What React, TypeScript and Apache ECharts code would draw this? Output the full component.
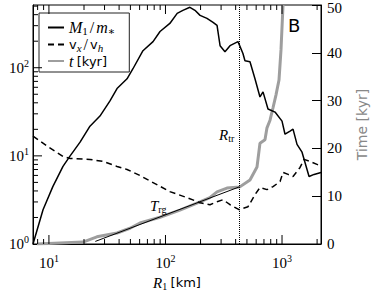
import React, { useEffect, useRef } from "react";
import * as echarts from "echarts";

// ---- data ----
const massR = [7.3, 8.9, 10.8, 13.2, 15.1, 18.5, 22.5, 27.4, 33.4, 38.4, 46.8, 52.6, 64.1, 78.2, 89.8, 109, 126, 141, 162, 179, 198, 227, 256, 277, 294, 324, 358, 419, 462, 481, 531, 586, 647, 687, 758, 871, 1000, 1061, 1172, 1243, 1345, 1485, 1706, 1884, 2160];
const massRatio = [1.0, 2.45, 4.48, 7.59, 9.87, 14.3, 21.7, 28.3, 42, 58, 74.9, 97.4, 156, 198, 258, 318, 414, 448, 485, 448, 393, 363, 327, 302, 178, 152, 178, 198, 145, 120, 117, 74.9, 46.6, 53.2, 34.0, 31.4, 24.8, 17.6, 19.1, 20.1, 13.5, 11.0, 5.83, 6.16, 6.48];

const velR = [7.3, 10, 13.2, 15.1, 22.5, 29.1, 38.4, 46.8, 60.4, 78.2, 109, 153, 198, 241, 277, 312, 358, 428, 511, 586, 647, 743, 837, 962, 1020, 1128, 1243, 1428, 1545, 1740, 1995, 2160];
const velRatio = [16.7, 12.5, 9.87, 9.36, 9.12, 8.65, 7.59, 7.01, 5.98, 4.98, 3.93, 3.36, 2.94, 2.79, 3.02, 3.18, 2.79, 2.45, 2.65, 3.63, 4.37, 4.14, 4.48, 5.11, 6.48, 6.16, 5.83, 7.39, 9.12, 8.65, 8.0, 7.6];

const timeR = [7.9, 19.6, 25.8, 38.4, 49.6, 60.4, 89.8, 133, 198, 240, 277, 337, 431, 531, 610, 647, 714, 743, 789, 837, 888, 924, 942, 980, 1020];
const timeKyr = [0, 0.4, 1.5, 2.3, 3.3, 4.4, 5.6, 7.1, 8.8, 9.7, 10.9, 11.7, 11.9, 13.4, 16.1, 21.1, 21.8, 24.3, 25.9, 28.5, 31.2, 33.3, 34.3, 40.6, 50];

const trgR = [25, 431];
const trgValue = [1.07, 4.45];

const rTransition = 431;

const xMin = 7.3;
const xMax = 2160;
const yMin = 1;
const yMax = 515;
const timeMin = 0;
const timeMax = 50;

const xMajorTicks = [10, 100, 1000];
const xMinorTicks = [8, 9, 20, 30, 40, 50, 60, 70, 80, 90, 200, 300, 400, 500, 600, 700, 800, 900, 2000];
const yMajorTicks = [10, 100];
const yMinorTicks = [2, 3, 4, 5, 6, 7, 8, 9, 20, 30, 40, 50, 60, 70, 80, 90, 200, 300, 400, 500];

const SERIF = "'Liberation Serif', 'DejaVu Serif', serif";
const SANS = "'DejaVu Sans', sans-serif";
const GRAY = "#9e9e9e";

const pairs = (xs: number[], ys: number[]) => xs.map((x, i) => [x, ys[i]]);

const powLabel = (v: number) => {
  const e = Math.log10(v);
  const r = Math.round(e);
  if (Math.abs(e - r) > 1e-6) return "";
  return `{b|10}{s|${r}}`;
};

const tickRich = {
  b: { fontFamily: SERIF, fontSize: 15, color: "#000" },
  s: { fontFamily: SERIF, fontSize: 10, color: "#000", padding: [0, 0, 9, 0] },
};

const mathRich = {
  i: { fontFamily: SERIF, fontStyle: "italic", fontSize: 15, color: "#000" },
  r: { fontFamily: SERIF, fontSize: 15, color: "#000" },
  n: { fontFamily: SANS, fontSize: 13, color: "#000" },
  sub: { fontFamily: SERIF, fontSize: 10, color: "#000", padding: [7, 0, 0, 0] },
  subi: { fontFamily: SERIF, fontStyle: "italic", fontSize: 10, color: "#000", padding: [7, 0, 0, 0] },
};

const legendRich = {
  i: { fontFamily: SERIF, fontStyle: "italic", fontSize: 16, lineHeight: 15, color: "#000" },
  r: { fontFamily: SERIF, fontSize: 16, lineHeight: 15, color: "#000", padding: [0, 2, 0, 2] },
  n: { fontFamily: SANS, fontSize: 13, lineHeight: 15, color: "#000" },
  sub: { fontFamily: SERIF, fontSize: 11, lineHeight: 10, color: "#000", padding: [6, 0, 0, 0] },
  subi: { fontFamily: SERIF, fontStyle: "italic", fontSize: 11, lineHeight: 10, color: "#000", padding: [6, 0, 0, 0] },
};

const legendText: Record<string, string> = {
  "M1/m*": "{i|M}{sub|1}{r|/}{i|m}{sub|∗}",
  "vx/vh": "{n|v}{subi|x}{r|/}{n|v}{subi|h}",
  "t [kyr]": "{i|t} {n|[kyr]}",
};

const timeLabel = (v: number) => (v === timeMax ? `{top|${v}}` : `${v}`);

export default function App() {
  const ref = useRef<HTMLDivElement>(null);

  useEffect(() => {
    if (!ref.current) return;
    const chart = echarts.init(ref.current, undefined, { renderer: "svg" });

    const xTickData = [
      ...xMajorTicks.map((v) => [v, yMin, 9]),
      ...xMinorTicks.map((v) => [v, yMin, 5]),
    ];
    const yTickData = [
      ...yMajorTicks.map((v) => [xMin, v, 9]),
      ...yMinorTicks.map((v) => [xMin, v, 5]),
    ];

    chart.setOption({
      animation: false,
      grid: {
        left: 33,
        right: 53,
        top: 5,
        bottom: 47,
        containLabel: false,
        outerBoundsMode: "none",
        show: true,
        borderColor: "#000",
        borderWidth: 1,
        backgroundColor: "transparent",
      },
      legend: {
        data: ["M1/m*", "vx/vh", "t [kyr]"],
        orient: "vertical",
        left: 39,
        top: 13,
        padding: [6, 14, 3, 8],
        itemGap: 0,
        itemWidth: 16,
        itemHeight: 12,
        borderColor: "#222",
        borderWidth: 1,
        borderRadius: 0,
        backgroundColor: "#fff",
        itemStyle: { opacity: 0 },
        formatter: (name: string) => legendText[name] || name,
        textStyle: { rich: legendRich },
      },
      xAxis: {
        type: "log",
        logBase: 10,
        min: xMin,
        max: xMax,
        axisLine: { show: true, lineStyle: { color: "#000", width: 1 } },
        axisTick: { show: false },
        splitLine: { show: false },
        axisLabel: {
          formatter: powLabel,
          rich: tickRich,
          margin: 9,
          showMinLabel: false,
          showMaxLabel: false,
        },
        name: "{i|R}{sub|1} {n|[km]}",
        nameLocation: "middle",
        nameGap: 30,
        nameTextStyle: { rich: mathRich },
      },
      yAxis: [
        {
          type: "log",
          logBase: 10,
          min: yMin,
          max: yMax,
          position: "left",
          axisLine: { show: true, lineStyle: { color: "#000", width: 1 } },
          axisTick: { show: false },
          splitLine: { show: false },
          axisLabel: {
            formatter: powLabel,
            rich: tickRich,
            margin: 4,
            showMaxLabel: false,
          },
        },
        {
          type: "value",
          min: timeMin,
          max: timeMax,
          interval: 10,
          position: "right",
          axisLine: { show: true, lineStyle: { color: "#000", width: 1 } },
          axisTick: { show: true, inside: true, length: 9, lineStyle: { color: "#000" } },
          splitLine: { show: false },
          axisLabel: {
            fontFamily: SERIF,
            fontSize: 15,
            color: "#000",
            margin: 6,
            formatter: timeLabel,
            rich: { top: { fontFamily: SERIF, fontSize: 15, color: "#000", padding: [5, 0, 0, 0] } },
          },
          name: "Time [kyr]",
          nameLocation: "middle",
          nameGap: 34,
          nameRotate: 90,
          nameTextStyle: { fontFamily: SANS, fontSize: 14, color: "#888" },
        },
      ],
      series: [
        {
          name: "t [kyr]",
          type: "line",
          yAxisIndex: 1,
          data: pairs(timeR, timeKyr),
          symbol: "none",
          lineStyle: { color: GRAY, width: 3 },
          itemStyle: { color: GRAY, opacity: 0 },
          z: 2,
        },
        {
          name: "T_rg",
          type: "line",
          yAxisIndex: 0,
          data: pairs(trgR, trgValue),
          symbol: "none",
          lineStyle: { color: "#000", width: 1 },
          z: 3,
        },
        {
          name: "M1/m*",
          type: "line",
          yAxisIndex: 0,
          data: pairs(massR, massRatio),
          symbol: "none",
          lineStyle: { color: "#000", width: 1.5 },
          itemStyle: { color: "#000", opacity: 0 },
          z: 3,
          markLine: {
            silent: true,
            symbol: "none",
            label: { show: false },
            lineStyle: { color: "#000", type: "dotted", width: 1, opacity: 1 },
            data: [{ xAxis: rTransition }],
          },
        },
        {
          name: "vx/vh",
          type: "line",
          yAxisIndex: 0,
          data: pairs(velR, velRatio),
          symbol: "none",
          lineStyle: { color: "#000", width: 1.5, type: [6, 4] },
          itemStyle: { color: "#000", opacity: 0 },
          z: 3,
        },
        {
          name: "xticks",
          type: "custom",
          yAxisIndex: 0,
          silent: true,
          clip: false,
          z: 5,
          data: xTickData,
          renderItem: (params: any, api: any) => {
            const x = api.coord([api.value(0), yMin])[0];
            const len = api.value(2);
            const cs = params.coordSys;
            const bottom = cs.y + cs.height;
            return {
              type: "group",
              children: [
                { type: "line", shape: { x1: x, y1: bottom, x2: x, y2: bottom - len }, style: { stroke: "#000", lineWidth: 1 } },
                { type: "line", shape: { x1: x, y1: cs.y, x2: x, y2: cs.y + len }, style: { stroke: "#000", lineWidth: 1 } },
              ],
            };
          },
        },
        {
          name: "yticks",
          type: "custom",
          yAxisIndex: 0,
          silent: true,
          clip: false,
          z: 5,
          data: yTickData,
          renderItem: (params: any, api: any) => {
            const y = api.coord([xMin, api.value(1)])[1];
            const len = api.value(2);
            const cs = params.coordSys;
            return {
              type: "line",
              shape: { x1: cs.x, y1: y, x2: cs.x + len, y2: y },
              style: { stroke: "#000", lineWidth: 1 },
            };
          },
        },
      ],
      graphic: [
        {
          type: "text",
          left: 219,
          top: 127,
          style: { text: "{i|R}{sub|tr}", rich: mathRich },
          z: 10,
        },
        {
          type: "text",
          left: 150,
          top: 198,
          style: { text: "{i|T}{sub|rg}", rich: mathRich },
          z: 10,
        },
        {
          type: "text",
          left: 288,
          top: 16,
          style: { text: "B", fontFamily: SANS, fontSize: 18, fill: "#000" },
          z: 10,
        },
      ],
    });

    return () => chart.dispose();
  }, []);

  return (
    <div
      ref={ref}
      style={{ position: "fixed", left: 0, top: 0, width: 374, height: 291, background: "#fff" }}
    />
  );
}
